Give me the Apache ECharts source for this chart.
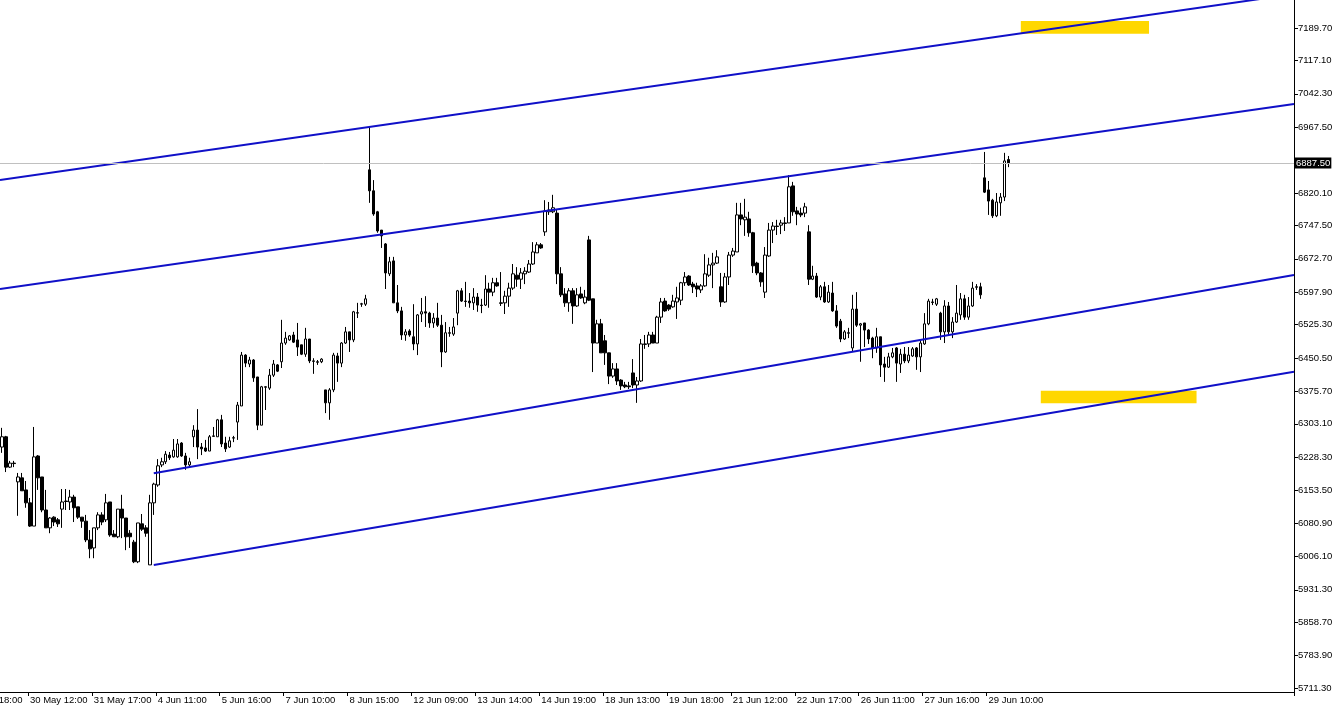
<!DOCTYPE html>
<html>
<head>
<meta charset="utf-8">
<title>H1 chart</title>
<script src="https://cdn.jsdelivr.net/npm/echarts@6/dist/echarts.min.js"></script>
<style>
html, body { margin: 0; padding: 0; background: #fff; }
#chart { width: 1332px; height: 710px; }
</style>
</head>
<body>
<div id="chart"></div>
<script>
// bars as [open, close, low, high]
const candles = [
  [6251,6274,6238,6294],[6274,6206,6195,6276],[6206,6215,6204,6220],[6215,6214,6206,6220],
  [6173,6184,6097,6193],[6182,6153,6153,6193],[6155,6126,6115,6175],[6126,6074,6072,6137],
  [6074,6229,6074,6296],[6231,6182,6155,6233],[6184,6110,6105,6184],[6110,6070,6070,6155],
  [6070,6092,6058,6094],[6094,6083,6074,6096],[6088,6079,6072,6092],[6112,6128,6070,6157],
  [6130,6129,6110,6157],[6128,6139,6110,6155],[6139,6115,6083,6144],[6117,6094,6090,6117],
  [6094,6085,6070,6094],[6085,6043,6038,6099],[6043,6023,6002,6065],[6025,6070,6002,6070],
  [6070,6099,6065,6105],[6099,6083,6076,6105],[6088,6126,6083,6146],[6128,6054,6050,6128],
  [6056,6050,6050,6065],[6050,6112,6047,6112],[6112,6092,6047,6144],[6092,6050,6020,6092],
  [6058,6050,6025,6065],[6038,5994,5991,6043],[5994,6081,5991,6081],[6079,6067,6063,6101],
  [6070,6058,6050,6076],[5987,6126,5987,6144],[6126,6168,6099,6171],[6166,6209,6162,6224],
  [6211,6218,6206,6227],[6218,6235,6213,6242],[6233,6227,6222,6240],[6229,6244,6227,6269],
  [6229,6258,6227,6269],[6260,6231,6229,6262],[6231,6211,6200,6238],[6211,6218,6206,6227],
  [6274,6289,6251,6300],[6289,6251,6224,6336],[6251,6247,6233,6260],[6249,6242,6240,6267],
  [6242,6274,6242,6278],[6276,6275,6274,6296],[6274,6312,6274,6314],[6312,6258,6251,6323],
  [6260,6247,6240,6274],[6251,6265,6249,6274],[6271,6272,6262,6276],[6307,6345,6267,6352],
  [6343,6457,6343,6464],[6457,6439,6430,6459],[6437,6446,6430,6453],[6446,6406,6397,6448],
  [6408,6300,6289,6408],[6300,6386,6300,6388],[6386,6385,6334,6387],[6383,6412,6379,6426],
  [6412,6437,6408,6446],[6435,6421,6419,6437],[6442,6484,6428,6536],[6484,6495,6480,6509],
  [6491,6500,6489,6502],[6502,6486,6484,6509],[6491,6475,6455,6529],[6480,6459,6457,6480],
  [6459,6493,6453,6518],[6493,6444,6439,6493],[6444,6443,6415,6450],[6442,6441,6435,6446],
  [6442,6448,6439,6450],[6379,6350,6327,6379],[6350,6379,6312,6383],[6379,6457,6374,6462],
  [6455,6439,6397,6462],[6439,6484,6430,6486],[6484,6509,6482,6520],[6509,6491,6464,6509],
  [6491,6554,6486,6556],[6551,6552,6540,6574],[6571,6572,6565,6574],[6571,6583,6567,6592],
  [6872,6825,6798,6968],[6825,6773,6769,6849],[6778,6735,6731,6780],[6737,6724,6697,6737],
  [6706,6641,6605,6708],[6639,6666,6634,6677],[6668,6574,6574,6677],[6574,6556,6551,6614],
  [6556,6502,6491,6565],[6502,6509,6489,6515],[6511,6502,6498,6515],[6498,6482,6468,6571],
  [6482,6547,6457,6549],[6549,6554,6531,6585],[6554,6551,6520,6589],[6551,6529,6518,6554],
  [6529,6540,6518,6551],[6540,6524,6520,6574],[6524,6464,6430,6547],[6464,6507,6462,6531],
  [6507,6506,6498,6520],[6504,6520,6500,6540],[6551,6601,6524,6603],[6601,6578,6576,6607],
  [6578,6577,6565,6621],[6578,6574,6563,6596],[6574,6587,6558,6607],[6587,6569,6554,6596],
  [6569,6568,6551,6583],[6569,6605,6567,6636],[6605,6598,6563,6619],[6598,6619,6589,6630],
  [6619,6612,6610,6630],[6574,6573,6567,6643],[6574,6589,6549,6601],[6589,6607,6565,6619],
  [6607,6639,6603,6661],[6636,6627,6610,6654],[6627,6641,6605,6652],[6639,6645,6616,6654],
  [6643,6661,6641,6670],[6661,6688,6659,6710],[6686,6704,6686,6710],[6704,6697,6695,6708],
  [6733,6780,6724,6804],[6778,6782,6771,6800],[6778,6787,6775,6816],[6775,6639,6616,6782],
  [6639,6592,6587,6654],[6594,6574,6565,6607],[6574,6601,6554,6607],[6601,6567,6527,6607],
  [6567,6592,6565,6607],[6594,6585,6583,6610],[6574,6587,6571,6603],[6715,6580,6578,6724],
  [6583,6484,6419,6583],[6484,6527,6484,6536],[6527,6462,6462,6538],[6489,6462,6435,6502],
  [6462,6410,6392,6462],[6410,6426,6406,6439],[6426,6399,6390,6439],[6401,6388,6379,6403],
  [6390,6386,6383,6397],[6388,6386,6381,6397],[6417,6390,6383,6448],[6390,6399,6350,6408],
  [6399,6482,6397,6493],[6482,6481,6471,6502],[6482,6502,6475,6509],[6502,6484,6484,6509],
  [6484,6542,6484,6545],[6542,6576,6529,6585],[6578,6556,6554,6585],[6569,6560,6556,6571],
  [6565,6578,6563,6592],[6576,6585,6538,6610],[6580,6619,6569,6621],[6619,6632,6612,6643],
  [6634,6614,6612,6636],[6616,6610,6596,6621],[6612,6605,6587,6619],[6603,6612,6596,6616],
  [6612,6639,6610,6683],[6636,6659,6632,6675],[6659,6663,6607,6686],[6663,6677,6661,6692],
  [6610,6576,6565,6641],[6576,6632,6574,6641],[6632,6681,6614,6688],[6681,6690,6677,6697],
  [6688,6771,6688,6798],[6771,6762,6748,6798],[6760,6766,6724,6807],[6762,6731,6722,6778],
  [6731,6657,6641,6733],[6663,6641,6636,6666],[6641,6621,6610,6643],[6598,6681,6585,6699],
  [6679,6737,6677,6753],[6737,6746,6708,6755],[6746,6745,6726,6760],[6748,6753,6728,6760],
  [6753,6752,6735,6766],[6753,6834,6753,6860],[6836,6778,6769,6845],[6780,6773,6748,6789],
  [6775,6771,6766,6787],[6775,6789,6766,6798],[6733,6627,6614,6748],[6627,6634,6625,6657],
  [6634,6587,6585,6641],[6587,6610,6580,6614],[6610,6576,6574,6621],[6576,6598,6574,6614],
  [6596,6556,6554,6621],[6556,6522,6518,6569],[6533,6493,6486,6538],[6493,6509,6491,6513],
  [6507,6506,6495,6518],[6473,6560,6466,6592],[6560,6524,6520,6598],[6524,6527,6442,6529],
  [6529,6513,6475,6529],[6513,6493,6482,6515],[6495,6473,6450,6498],[6473,6498,6462,6518],
  [6498,6435,6408,6498],[6437,6430,6397,6453],[6430,6453,6428,6462],[6453,6462,6450,6473],
  [6473,6439,6397,6475],[6437,6459,6417,6471],[6459,6444,6439,6475],[6444,6457,6439,6475],
  [6455,6471,6453,6475],[6473,6453,6424,6475],[6453,6484,6419,6491],[6482,6527,6480,6551],
  [6527,6578,6524,6583],[6576,6575,6569,6583],[6571,6583,6567,6585],[6551,6509,6491,6554],
  [6509,6567,6484,6580],[6567,6509,6502,6576],[6509,6531,6495,6542],[6531,6551,6529,6614],
  [6547,6583,6536,6596],[6583,6542,6536,6592],[6542,6567,6536,6587],[6567,6607,6565,6621],
  [6610,6609,6603,6616],[6610,6592,6583,6619],[6854,6822,6820,6912],[6827,6802,6771,6847],
  [6804,6769,6764,6807],[6769,6800,6766,6820],[6798,6811,6769,6820],[6811,6892,6802,6910],
  [6895,6887.5,6878,6903]
]

const slotCount = 324 // bar slots across the visible window
const firstLabel = '29 May 18:00'
const xLabels = [
  '30 May 12:00', '31 May 17:00', '4 Jun 11:00', '5 Jun 16:00', '7 Jun 10:00',
  '8 Jun 15:00', '12 Jun 09:00', '13 Jun 14:00', '14 Jun 19:00', '18 Jun 13:00',
  '19 Jun 18:00', '21 Jun 12:00', '22 Jun 17:00', '26 Jun 11:00', '27 Jun 16:00',
  '29 Jun 10:00'
]
const labelStart = 7
const labelStep = 16

const yMin = 5702.3
const yMax = 7252.4
const yLabels = [
  5711.3, 5783.9, 5858.7, 5931.3, 6006.1, 6080.9, 6153.5, 6228.3, 6303.1, 6375.7,
  6450.5, 6525.3, 6597.9, 6672.7, 6747.5, 6820.1, 6967.5, 7042.3, 7117.1, 7189.7
]
const yTicks = yLabels.concat([6892.7])
const lastPrice = 6887.5

// trend lines: [[bar, price], [bar, price]]
const trendLines = [
  [[-0.5, 6849.2], [323.5, 7265.6]],
  [[-0.5, 6605.0], [323.5, 7019.4]],
  [[38, 6192.2], [323.5, 6636.4]],
  [[38, 5986.8], [323.5, 6419.8]]
]
// yellow rectangles: [[bar, price], [bar, price]]
const zones = [
  [[255.1, 7205.4], [287.2, 7176.9]],
  [[260.1, 6377.2], [299.1, 6349.0]]
]

const font = 'Liberation Sans'
const lineBlue = '#1010c8'

const categories = []
for (let i = 0; i < slotCount; i++) {
  const k = (i - labelStart) / labelStep
  categories.push(i >= labelStart && Number.isInteger(k) && k < xLabels.length ? xLabels[k] : '')
}
const showLabel = (i) => i >= labelStart && (i - labelStart) % labelStep === 0 && categories[i] !== ''

const chart = echarts.init(document.getElementById('chart'))

const option = {
  animation: false,
  backgroundColor: '#fff',
  grid: { left: 0, right: 38, top: 0, bottom: 18, containLabel: false, outerBoundsMode: 'none' },
  xAxis: [
    {
      type: 'category',
      data: categories,
      boundaryGap: true,
      axisLine: { show: true, onZero: false, lineStyle: { color: '#000', width: 1 } },
      axisTick: { show: true, interval: showLabel, length: 4, lineStyle: { color: '#000' } },
      axisLabel: {
        interval: showLabel,
        align: 'left',
        margin: 3,
        color: '#000',
        fontSize: 9.5,
        fontFamily: font
      },
      splitLine: { show: false }
    },
    {
      type: 'value',
      min: -0.5,
      max: slotCount - 0.5,
      show: false
    }
  ],
  yAxis: {
    type: 'value',
    position: 'right',
    min: yMin,
    max: yMax,
    scale: true,
    axisLine: { show: true, onZero: false, lineStyle: { color: '#000', width: 1 } },
    axisTick: { show: true, customValues: yTicks, length: 4, lineStyle: { color: '#000' } },
    axisLabel: {
      customValues: yLabels,
      formatter: (v) => v.toFixed(2),
      margin: 4,
      color: '#000',
      fontSize: 9.5,
      fontFamily: font
    },
    splitLine: { show: false }
  },
  graphic: [
    {
      type: 'text',
      x: -35,
      y: 695,
      style: { text: firstLabel, fill: '#000', font: '9.5px "' + font + '"', align: 'left', verticalAlign: 'top' }
    }
  ],
  series: [
    {
      type: 'line',
      xAxisIndex: 1,
      yAxisIndex: 0,
      data: [],
      z: 1,
      markArea: {
        silent: true,
        itemStyle: { color: '#ffd700', opacity: 1 },
        data: zones.map((z) => [{ coord: z[0] }, { coord: z[1] }])
      }
    },
    {
      type: 'candlestick',
      xAxisIndex: 0,
      yAxisIndex: 0,
      data: candles,
      barWidth: 3,
      z: 2,
      itemStyle: {
        color: '#fff',
        color0: '#000',
        borderColor: '#000',
        borderColor0: '#000',
        borderWidth: 1
      },
      markLine: {
        silent: true,
        symbol: ['none', 'none'],
        data: [{ yAxis: lastPrice }],
        lineStyle: { color: '#c0c0c0', width: 1, type: 'solid' },
        label: {
          position: 'end',
          distance: 1,
          formatter: lastPrice.toFixed(2),
          color: '#fff',
          backgroundColor: '#000',
          padding: [1, 1, 0, 1],
          fontSize: 9.5,
          fontFamily: font
        }
      }
    }
  ].concat(trendLines.map((pts) => ({
    type: 'line',
    xAxisIndex: 1,
    yAxisIndex: 0,
    data: pts,
    symbol: 'none',
    clip: true,
    z: 3,
    lineStyle: { color: lineBlue, width: 2 }
  })))
}

chart.setOption(option)
</script>
</body>
</html>
